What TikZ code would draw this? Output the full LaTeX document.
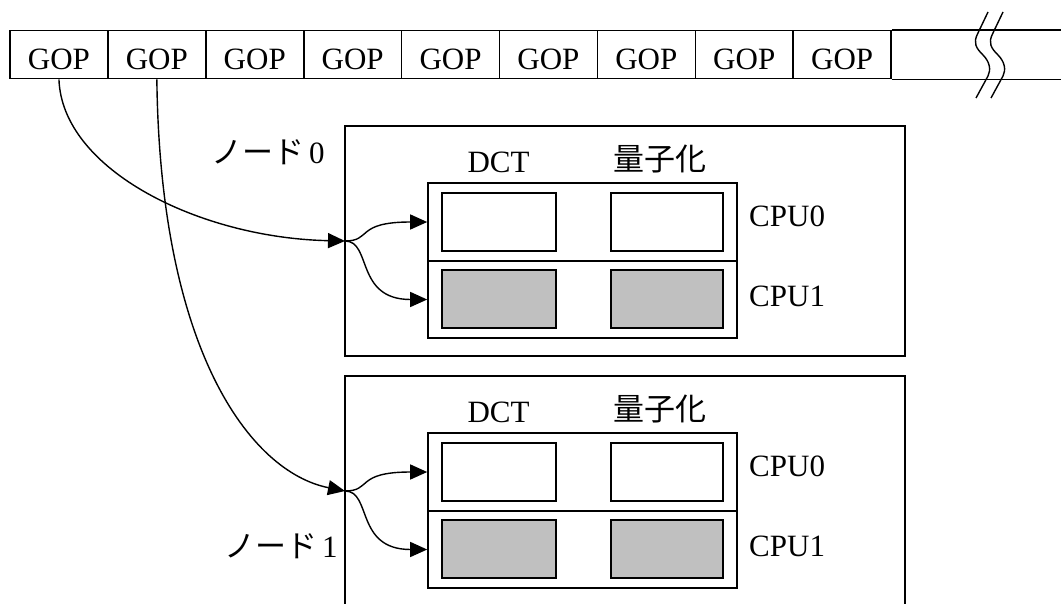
\documentclass[tikz,border=0pt]{standalone}
\usepackage{fontspec}
\setmainfont{Liberation Serif}
\newfontfamily\jp{Noto Sans CJK JP}
\usetikzlibrary{arrows.meta}
\definecolor{boxgray}{RGB}{192,192,192}
\begin{document}
\begin{tikzpicture}[x=1pt,y=-1pt,
  every node/.style={font=\fontsize{31}{37}\selectfont},
  cell/.style={draw,line width=1.6pt,inner sep=0pt,minimum width=97.9pt,minimum height=48pt,text height=30pt,text depth=0pt},
  frame/.style={draw,line width=1.6pt,inner sep=0pt},
  wbox/.style={draw,line width=1.6pt,fill=white,inner sep=0pt},
  gbox/.style={draw,line width=1.6pt,fill=boxgray,inner sep=0pt},
  curve/.style={line width=1.4pt,-{Triangle[length=17pt,width=15pt]}},
  brk/.style={line width=1.4pt},
  lbl/.style={inner sep=0pt,anchor=base}]
\useasboundingbox (0,0) rectangle (1061,603);
% GOP strip
\foreach \i in {1,...,9}
  \node[cell] (g\i) at ({10+97.9*(\i-0.5)},54.5) {GOP};
\draw[line width=1.6pt] (g9.north east) -- ++(180,0);
\draw[line width=1.6pt] (g9.south east) -- ++(180,0);
% break marks
\foreach \s in {0,15}
  \draw[brk,xshift=\s pt] (988,12) -- (977.5,34) .. controls (973,43) and (976,48) .. (983,55) .. controls (990,62) and (991,70) .. (988,76) -- (976,98);
% node 0
\node[frame,minimum width=560pt,minimum height=230pt] (n0) at (625,241) {};
\node[frame,minimum width=309pt,minimum height=78pt] (r00) at (582.5,222) {};
\node[frame,minimum width=309pt,minimum height=77pt] (r01) at (582.5,299.5) {};
\node[wbox,minimum width=114pt,minimum height=58pt] (d00) at (499,222) {};
\node[wbox,minimum width=112pt,minimum height=58pt] (q00) at (667,222) {};
\node[gbox,minimum width=114pt,minimum height=58pt] (d01) at (499,299) {};
\node[gbox,minimum width=112pt,minimum height=58pt] (q01) at (667,299) {};
\node[lbl] (t0dct) at (498.5,172) {DCT};
\node[lbl] (t0q) at (660,170) {\jp 量子化};
\node[lbl,anchor=base west] (t0c0) at (749,226) {CPU0};
\node[lbl,anchor=base west] (t0c1) at (749,306) {CPU1};
\node[lbl,anchor=base west] (t0n) at (211,163) {{\jp ノード}\hspace{5pt}0};
% node 1
\node[frame,minimum width=560pt,minimum height=260pt] (n1) at (625,506) {};
\node[frame,minimum width=309pt,minimum height=78pt] (r10) at (582.5,472) {};
\node[frame,minimum width=309pt,minimum height=77pt] (r11) at (582.5,549.5) {};
\node[wbox,minimum width=114pt,minimum height=58pt] (d10) at (499,472) {};
\node[wbox,minimum width=112pt,minimum height=58pt] (q10) at (667,472) {};
\node[gbox,minimum width=114pt,minimum height=58pt] (d11) at (499,549) {};
\node[gbox,minimum width=112pt,minimum height=58pt] (q11) at (667,549) {};
\node[lbl] (t1dct) at (498.5,422) {DCT};
\node[lbl] (t1q) at (660,420) {\jp 量子化};
\node[lbl,anchor=base west] (t1c0) at (749,476) {CPU0};
\node[lbl,anchor=base west] (t1c1) at (749,556) {CPU1};
\node[lbl,anchor=base west] (t1n) at (224,557) {{\jp ノード}\hspace{5pt}1};
% junctions
\coordinate (j0) at (345,241);
\coordinate (j1) at (345,491);
% connectors
\draw[curve] (g1.south) .. controls (62,170) and (200,238) .. (j0);
\draw[curve] (g2.south) .. controls (160,350) and (250,472) .. (j1);
\draw[curve] (j0) .. controls (372,241) and (355,222) .. (r00.west);
\draw[curve] (j0) .. controls (372,241) and (355,299.5) .. (r01.west);
\draw[curve] (j1) .. controls (372,491) and (355,472) .. (r10.west);
\draw[curve] (j1) .. controls (372,491) and (355,549.5) .. (r11.west);
\end{tikzpicture}
\end{document}
